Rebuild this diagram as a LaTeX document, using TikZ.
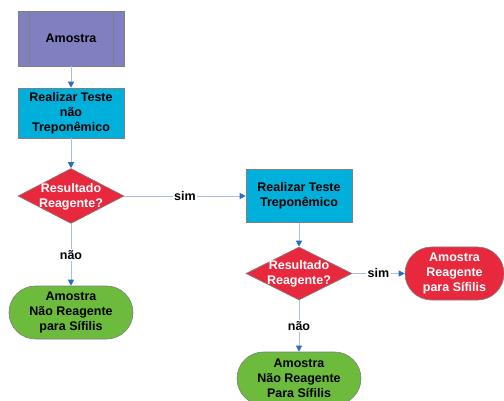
\documentclass[tikz,border=0pt]{standalone}
\usepackage{fontspec}
\setmainfont{Liberation Sans}
\usetikzlibrary{shapes.geometric,shapes.misc,arrows.meta}
\definecolor{cpurple}{HTML}{8080C0}
\definecolor{ccyan}{HTML}{00B0DA}
\definecolor{cred}{HTML}{E8293D}
\definecolor{cgreen}{HTML}{6CBB3C}
\definecolor{cborder}{HTML}{7F7F7F}
\definecolor{cline}{HTML}{A8C0E0}
\definecolor{carrow}{HTML}{2A6EC0}
\tikzset{
  base/.style={draw=cborder, line width=0.6pt, inner sep=0pt, align=center,
    font=\fontsize{12.5}{15}\selectfont\bfseries},
  procbox/.style={base, rectangle, fill=ccyan, minimum width=106pt, minimum height=50pt},
  predef/.style={base, rectangle, fill=cpurple, minimum width=106pt, minimum height=55pt},
  decision/.style={base, diamond, fill=cred, minimum width=106pt, minimum height=55pt},
  dtext/.style={inner sep=0pt, align=center, text=white,
    font=\fontsize{12.5}{15}\selectfont\bfseries},
  term/.style={base, rounded rectangle, minimum height=53pt},
  conn/.style={draw=cline, line width=0.8pt, -{Triangle[length=6pt,width=6pt,color=carrow]}},
  lbl/.style={fill=white, inner sep=1.5pt, font=\fontsize{12.5}{15}\selectfont\bfseries}
}
\begin{document}
\begin{tikzpicture}[x=1pt,y=-1pt]
\useasboundingbox (0,0) rectangle (504,401);
% nodes
\node[predef] (amostra) at (71,38.5) {Amostra};
\draw[cborder, line width=0.6pt] ([xshift=12pt]amostra.north west) -- ([xshift=12pt]amostra.south west);
\draw[cborder, line width=0.6pt] ([xshift=-11pt]amostra.north east) -- ([xshift=-11pt]amostra.south east);
\node[procbox] (teste1) at (71,113) {Realizar Teste\\não\\Treponêmico};
\node[decision] (dec1) at (71,196) {};
\node[dtext] (dec1t) at (71,197) {Resultado\\Reagente?};
\node[term, fill=cgreen, minimum width=124pt] (nr1) at (71,312.5) {Amostra\\Não Reagente\\para Sífilis};
\node[procbox, minimum height=53pt] (teste2) at (299,196) {Realizar Teste\\Treponêmico};
\node[decision, minimum height=53pt] (dec2) at (299,273.5) {};
\node[dtext] (dec2t) at (299,274) {Resultado\\Reagente?};
\node[term, fill=cred, text=white, minimum width=99pt] (r2) at (454.5,273.5) {Amostra\\Reagente\\para Sífilis};
\node[term, fill=cgreen, minimum width=124pt] (nr2) at (299,378.5) {Amostra\\Não Reagente\\Para Sífilis};
% connectors
\draw[conn] (amostra) -- (teste1);
\draw[conn] (teste1) -- (dec1);
\draw[conn] (dec1.east) -- node[lbl] {sim} (teste2.west);
\draw[conn] (dec1.south) -- node[lbl] {não} (nr1.north);
\draw[conn] (teste2) -- (dec2);
\draw[conn] (dec2.east) -- node[lbl] {sim} (r2.west);
\draw[conn] (dec2.south) -- node[lbl] {não} (nr2.north);
\end{tikzpicture}
\end{document}
